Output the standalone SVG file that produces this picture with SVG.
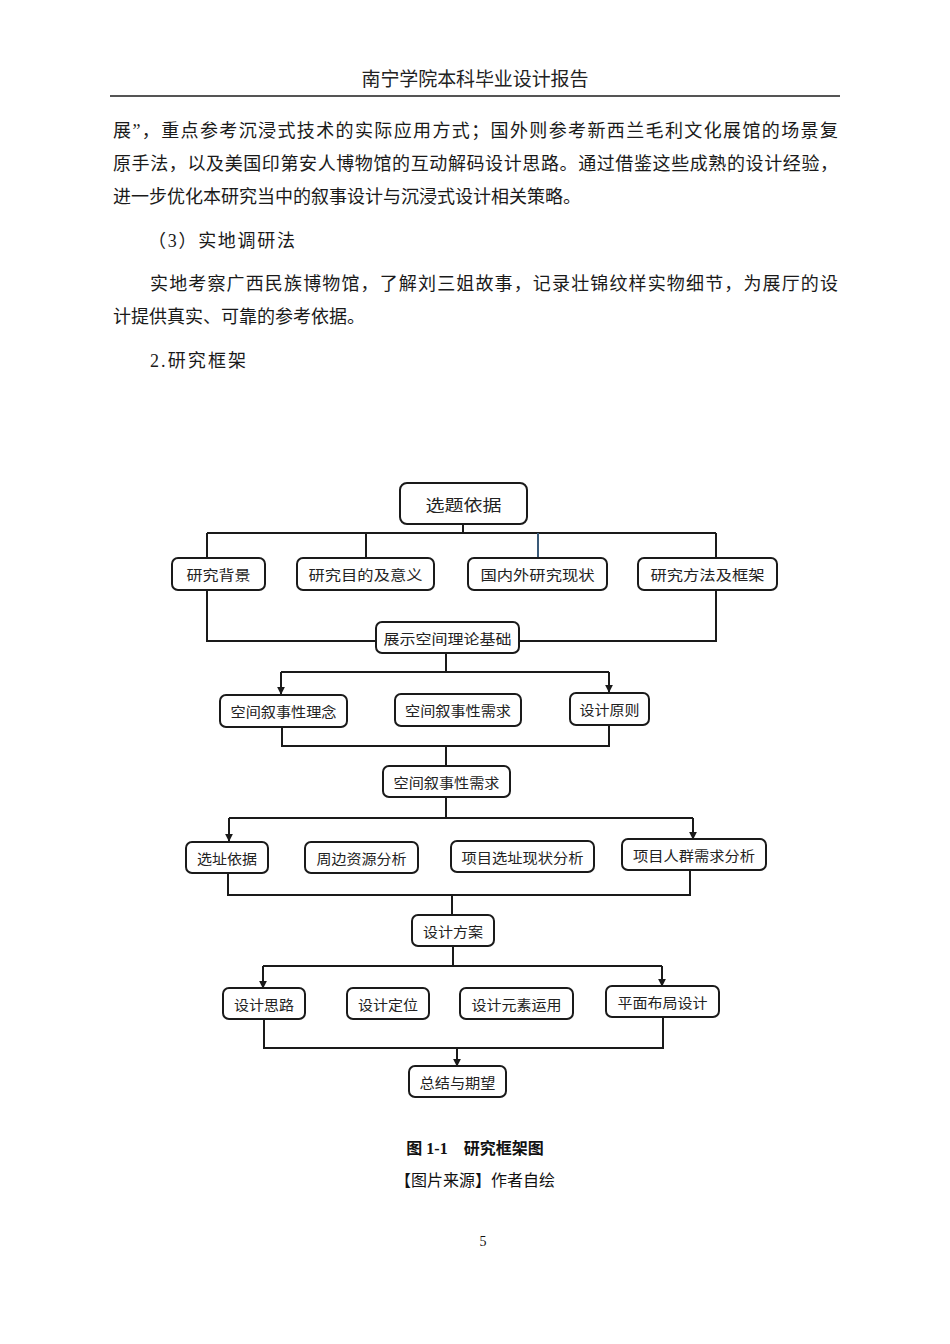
<svg xmlns="http://www.w3.org/2000/svg" width="950" height="1344" viewBox="0 0 950 1344">
<defs>
<style>
.body{font-family:"Liberation Serif","Noto Sans CJK SC",serif;font-size:18px;fill:#1a1a1a}
.hdr{font-family:"Liberation Serif","Noto Sans CJK SC",serif;font-size:19px;fill:#222}
.cap{font-family:"Liberation Serif","Noto Sans CJK SC",serif;font-size:16px;fill:#111}
.box{fill:#fff;stroke:#1a1a1a;stroke-width:2}
.lbl{font-family:"Noto Sans CJK SC","Liberation Sans",sans-serif;font-size:14px;fill:#222;text-anchor:middle;dominant-baseline:central}
.ln{fill:none;stroke:#1a1a1a;stroke-width:2}
</style>
<marker id="arr" viewBox="0 0 10 10" refX="9" refY="5" markerWidth="4" markerHeight="4" orient="auto">
<path d="M0,0 L10,5 L0,10 z" fill="#1a1a1a"/>
</marker>
</defs>
<rect width="950" height="1344" fill="#fff"/>
<text class="hdr" x="475" y="86" text-anchor="middle" textLength="227" lengthAdjust="spacing">南宁学院本科毕业设计报告</text>
<line x1="110" y1="96" x2="840" y2="96" stroke="#555" stroke-width="2"/>
<text class="body" x="113" y="137" textLength="725" lengthAdjust="spacing">展”，重点参考沉浸式技术的实际应用方式；国外则参考新西兰毛利文化展馆的场景复</text>
<text class="body" x="113" y="170" textLength="725" lengthAdjust="spacing">原手法，以及美国印第安人博物馆的互动解码设计思路。通过借鉴这些成熟的设计经验，</text>
<text class="body" x="113" y="203">进一步优化本研究当中的叙事设计与沉浸式设计相关策略。</text>
<text class="body" x="148" y="247" textLength="147" lengthAdjust="spacing">（3）实地调研法</text>
<text class="body" x="150" y="290" textLength="688" lengthAdjust="spacing">实地考察广西民族博物馆，了解刘三姐故事，记录壮锦纹样实物细节，为展厅的设</text>
<text class="body" x="113" y="323">计提供真实、可靠的参考依据。</text>
<text class="body" x="150" y="367" textLength="96" lengthAdjust="spacing">2.研究框架</text>

<g id="connectors">
<path class="ln" d="M463,524 V533 M207,533 H716 M207,533 V558 M366,533 V558 M716,533 V558"/>
<path d="M538,533 V558" fill="none" stroke="#3a5a78" stroke-width="2"/>
<path class="ln" d="M207,590 V641 H376 M716,590 V641 H519"/>
<path class="ln" d="M446,653 V672 M281,672 H609"/>
<path class="ln" d="M281,672 V694" marker-end="url(#arr)"/>
<path class="ln" d="M609,672 V692" marker-end="url(#arr)"/>
<path class="ln" d="M282,727 V746 H609 V725 M446,746 V766"/>
<path class="ln" d="M446,797 V818 M229,818 H693"/>
<path class="ln" d="M229,818 V841" marker-end="url(#arr)"/>
<path class="ln" d="M693,818 V839" marker-end="url(#arr)"/>
<path class="ln" d="M228,873 V895 H690 V870 M452,895 V915"/>
<path class="ln" d="M453,946 V966 M263,966 H662"/>
<path class="ln" d="M263,966 V988" marker-end="url(#arr)"/>
<path class="ln" d="M662,966 V986" marker-end="url(#arr)"/>
<path class="ln" d="M264,1019 V1048 H663 V1017"/>
<path class="ln" d="M457,1048 V1066" marker-end="url(#arr)"/>
</g>

<g id="n1"><rect class="box" x="400" y="483" width="127" height="41" rx="7"/><text class="lbl" x="463.5" y="504" style="font-size:16px" textLength="76" lengthAdjust="spacingAndGlyphs">选题依据</text></g>
<g id="n2"><rect class="box" x="172" y="558" width="93" height="32" rx="6"/><text class="lbl" x="218.5" y="574" textLength="64" lengthAdjust="spacingAndGlyphs">研究背景</text></g>
<g id="n3"><rect class="box" x="297" y="558" width="137" height="32" rx="6"/><text class="lbl" x="365.5" y="574" textLength="114" lengthAdjust="spacingAndGlyphs">研究目的及意义</text></g>
<g id="n4"><rect class="box" x="468" y="558" width="139" height="32" rx="6"/><text class="lbl" x="537.5" y="574" textLength="114" lengthAdjust="spacingAndGlyphs">国内外研究现状</text></g>
<g id="n5"><rect class="box" x="638" y="558" width="139" height="32" rx="6"/><text class="lbl" x="707.5" y="574" textLength="114" lengthAdjust="spacingAndGlyphs">研究方法及框架</text></g>
<g id="n6"><rect class="box" x="376" y="622" width="143" height="31" rx="6"/><text class="lbl" x="447.5" y="637.5" textLength="128" lengthAdjust="spacingAndGlyphs">展示空间理论基础</text></g>
<g id="n7"><rect class="box" x="220" y="695" width="127" height="32" rx="6"/><text class="lbl" x="283.5" y="711" textLength="106" lengthAdjust="spacingAndGlyphs">空间叙事性理念</text></g>
<g id="n8"><rect class="box" x="395" y="694" width="126" height="32" rx="6"/><text class="lbl" x="458" y="710" textLength="106" lengthAdjust="spacingAndGlyphs">空间叙事性需求</text></g>
<g id="n9"><rect class="box" x="570" y="693" width="79" height="32" rx="6"/><text class="lbl" x="609.5" y="709" textLength="60" lengthAdjust="spacingAndGlyphs">设计原则</text></g>
<g id="n10"><rect class="box" x="383" y="766" width="127" height="31" rx="6"/><text class="lbl" x="446.5" y="781.5" textLength="106" lengthAdjust="spacingAndGlyphs">空间叙事性需求</text></g>
<g id="n11"><rect class="box" x="186" y="842" width="82" height="31" rx="6"/><text class="lbl" x="227" y="857.5" textLength="60" lengthAdjust="spacingAndGlyphs">选址依据</text></g>
<g id="n12"><rect class="box" x="305" y="842" width="113" height="31" rx="6"/><text class="lbl" x="361.5" y="857.5" textLength="90" lengthAdjust="spacingAndGlyphs">周边资源分析</text></g>
<g id="n13"><rect class="box" x="451" y="841" width="143" height="31" rx="6"/><text class="lbl" x="522.5" y="856.5" textLength="122" lengthAdjust="spacingAndGlyphs">项目选址现状分析</text></g>
<g id="n14"><rect class="box" x="622" y="839" width="144" height="31" rx="6"/><text class="lbl" x="694" y="854.5" textLength="122" lengthAdjust="spacingAndGlyphs">项目人群需求分析</text></g>
<g id="n15"><rect class="box" x="412" y="915" width="82" height="31" rx="6"/><text class="lbl" x="453" y="930.5" textLength="60" lengthAdjust="spacingAndGlyphs">设计方案</text></g>
<g id="n16"><rect class="box" x="223" y="988" width="82" height="31" rx="6"/><text class="lbl" x="264" y="1003.5" textLength="60" lengthAdjust="spacingAndGlyphs">设计思路</text></g>
<g id="n17"><rect class="box" x="347" y="988" width="82" height="31" rx="6"/><text class="lbl" x="388" y="1003.5" textLength="60" lengthAdjust="spacingAndGlyphs">设计定位</text></g>
<g id="n18"><rect class="box" x="460" y="988" width="113" height="31" rx="6"/><text class="lbl" x="516.5" y="1003.5" textLength="90" lengthAdjust="spacingAndGlyphs">设计元素运用</text></g>
<g id="n19"><rect class="box" x="606" y="986" width="113" height="31" rx="6"/><text class="lbl" x="662.5" y="1001.5" textLength="90" lengthAdjust="spacingAndGlyphs">平面布局设计</text></g>
<g id="n20"><rect class="box" x="409" y="1066" width="97" height="31" rx="6"/><text class="lbl" x="457.5" y="1081.5" textLength="76" lengthAdjust="spacingAndGlyphs">总结与期望</text></g>

<text class="cap" x="475" y="1154" text-anchor="middle" font-weight="bold">图 1-1　研究框架图</text>
<text class="cap" x="475" y="1186" text-anchor="middle">【图片来源】作者自绘</text>
<text class="cap" x="483" y="1246" text-anchor="middle" style="font-size:14px">5</text>
</svg>
